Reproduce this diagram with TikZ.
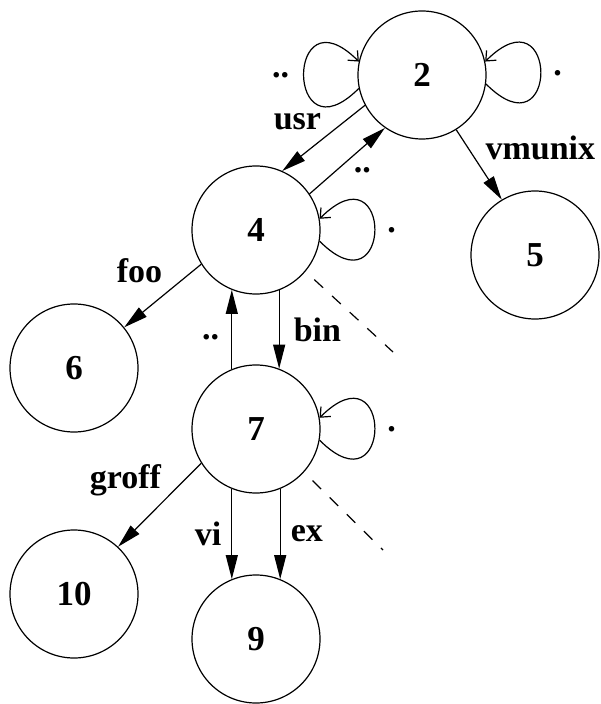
\documentclass[tikz,border=0pt]{standalone}
\usepackage{fontspec}
\setmainfont{Liberation Serif}
\usetikzlibrary{arrows.meta}

\tikzset{
  dirnode/.style={draw, circle, minimum size=64pt, inner sep=0pt, line width=0.6pt,
    font=\bfseries\fontsize{17.5}{20}\selectfont},
  lbl/.style={font=\bfseries\fontsize{17}{20}\selectfont, inner sep=1pt},
  link/.style={line width=0.6pt, -{Triangle[length=12pt,width=6pt]}},
  selfloop/.style={line width=0.6pt, -{Straight Barb[length=4pt,width=7pt]}},
  hidden/.style={line width=0.6pt, dash pattern=on 6pt off 6pt, dash phase=6pt}
}

\begin{document}
\begin{tikzpicture}[x=0.5pt,y=-0.5pt]
  \useasboundingbox (0,0) rectangle (600,704);

  % directories
  \node[dirnode] (n2) at (422,75) {2};
  \node[dirnode] (n4) at (256,230) {4};
  \node[dirnode] (n5) at (535,255) {5};
  \node[dirnode] (n6) at (74,368) {6};
  \node[dirnode] (n7) at (256,429) {7};
  \node[dirnode] (n10) at (74,594) {10};
  \node[dirnode] (n9) at (256,639) {9};

  \coordinate (d4) at (393,352);
  \coordinate (d7) at (383,550);

  % links
  \draw[link] (n2.208) -- (n4.66) node[midway, anchor=south east, yshift=3pt, lbl] {usr};
  \draw[link] (n4.34) -- (n2.235) node[midway, below right=2pt, lbl] {..};
  \draw[link] (n2.302) -- (n5.121) node[midway, anchor=south west, xshift=2pt, yshift=1pt, lbl] {vmunix};
  \draw[link] (n4.212) -- (n6.39) node[midway, anchor=south east, xshift=1pt, yshift=5pt, lbl] {foo};
  \draw[link] (n4.291) -- (n7.69) node[midway, right=6pt, lbl] {bin};
  \draw[link] (n7.112) -- (n4.248) node[midway, anchor=east, xshift=-5pt, yshift=-4pt, lbl] {..};
  \draw[link] (n7.212) -- (n10.47) node[midway, anchor=south east, xshift=2pt, yshift=3pt, lbl] {groff};
  \draw[link] (n7.248) -- (n9.112) node[midway, left=4pt, lbl] {vi};
  \draw[link] (n7.292) -- (n9.68) node[midway, right=4pt, lbl] {ex};

  % self loops
  \draw[selfloop] (n2.192) .. controls +(225:52pt) and +(135:52pt) .. (n2.168)
    node[pos=0.5, left=6pt, lbl] {..};
  \draw[selfloop] (n2.352) .. controls +(-45:52pt) and +(45:52pt) .. (n2.12)
    node[pos=0.5, right=5pt, lbl] {.};
  \draw[selfloop] (n4.350) .. controls +(-45:52pt) and +(45:52pt) .. (n4.10)
    node[pos=0.5, right=5pt, lbl] {.};
  \draw[selfloop] (n7.350) .. controls +(-45:52pt) and +(45:52pt) .. (n7.10)
    node[pos=0.5, right=5pt, lbl] {.};

  % not shown
  \draw[hidden] (n4.320) -- (d4);
  \draw[hidden] (n7.318) -- (d7);
\end{tikzpicture}
\end{document}
